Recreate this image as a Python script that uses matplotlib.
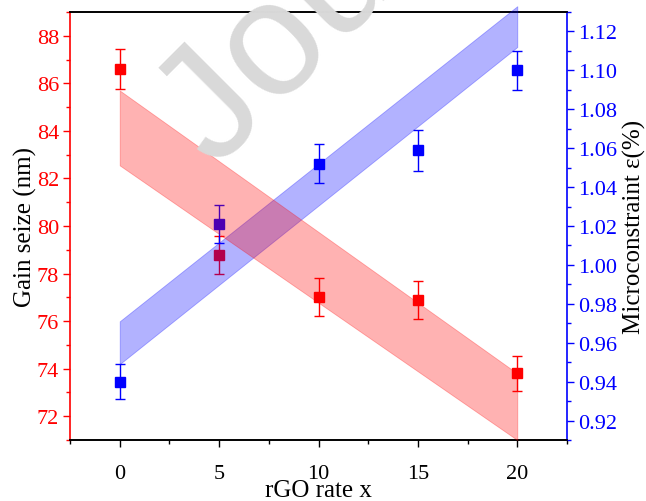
import matplotlib
matplotlib.use('Agg')
import matplotlib.pyplot as plt
from matplotlib.ticker import MultipleLocator, AutoMinorLocator

# data
rgo = [0, 5, 10, 15, 20]
gain = [86.6, 78.8, 77.0, 76.9, 73.8]
gain_err = [0.85, 0.8, 0.8, 0.8, 0.75]
strain = [0.940, 1.021, 1.052, 1.059, 1.100]
strain_err = [0.009, 0.0098, 0.010, 0.0105, 0.010]

# band edges (at x = 0 and x = 20)
band_x = [0, 20]
gain_lo = [82.55, 71.0]
gain_hi = [85.7, 73.8]
strain_lo = [0.949, 1.112]
strain_hi = [0.971, 1.133]

plt.rcParams['font.family'] = ['Liberation Serif', 'DejaVu Serif']

fig = plt.figure(figsize=(6.46, 5.02), dpi=100)
ax = fig.add_axes([70/646, 1-441/502, (567-70)/646, (441-13)/502])
ax2 = ax.twinx()

red = '#ff0000'
blue = '#0000ff'

ax.errorbar(rgo, gain, yerr=gain_err, fmt='s', color=red, ms=6.5,
            capsize=3.5, elinewidth=1.0, capthick=1.0, zorder=2)
ax2.errorbar(rgo, strain, yerr=strain_err, fmt='s', color=blue, ms=6.5,
             capsize=3.5, elinewidth=1.0, capthick=1.0, zorder=2)

# bands go on top of the points
ax2.fill_between(band_x, strain_lo, strain_hi, color=blue, alpha=0.3,
                 edgecolor=blue, linewidth=0.6, zorder=3, clip_on=False)
ax2.fill_between(band_x, gain_lo, gain_hi, color=red, alpha=0.3,
                 edgecolor=red, linewidth=0.6, zorder=3, transform=ax.transData)

ax.set_xlim(-2.5, 22.5)
ax.set_ylim(71, 89)
ax2.set_ylim(0.91, 1.13)

ax.xaxis.set_major_locator(MultipleLocator(5))
ax.xaxis.set_minor_locator(AutoMinorLocator(2))
ax.yaxis.set_major_locator(MultipleLocator(2))
ax.yaxis.set_minor_locator(AutoMinorLocator(2))
ax2.yaxis.set_major_locator(MultipleLocator(0.02))
ax2.yaxis.set_minor_locator(AutoMinorLocator(2))
ax2.yaxis.set_major_formatter(plt.FormatStrFormatter('%.2f'))

ax.tick_params(axis='x', which='major', length=5, width=1, labelsize=16, colors='black', pad=12)
ax.tick_params(axis='x', which='minor', length=3, width=1)
ax.tick_params(axis='y', which='major', length=5, width=1, labelsize=16, colors=red, pad=3)
ax.tick_params(axis='y', which='minor', length=3, width=1, colors=red)
ax2.tick_params(axis='y', which='major', length=5, width=1, labelsize=16, colors=blue, pad=3)
ax2.tick_params(axis='y', which='minor', length=3, width=1, colors=blue)

ax.spines['left'].set_color(red)
ax2.spines['left'].set_visible(False)
ax2.spines['right'].set_color(blue)
ax.spines['right'].set_visible(False)
for sp in ['left', 'right', 'top', 'bottom']:
    ax.spines[sp].set_linewidth(1.2)
    ax2.spines[sp].set_linewidth(1.2)

ax.set_xlabel('rGO rate x', fontsize=18, labelpad=-2.5)
ax.set_ylabel('Gain seize (nm)', fontsize=18, color='black', labelpad=0)
ax2.set_ylabel('Microconstraint ε(%)', fontsize=18, color='black', labelpad=4)

# watermark
fig.text(215/646, 1-170/502, 'Journal Pre-proof', fontsize=118, color='#d9d9d9',
         family='Liberation Sans', rotation=45, rotation_mode='anchor',
         ha='left', va='baseline', zorder=10)

fig.savefig('out.png', dpi=100)
